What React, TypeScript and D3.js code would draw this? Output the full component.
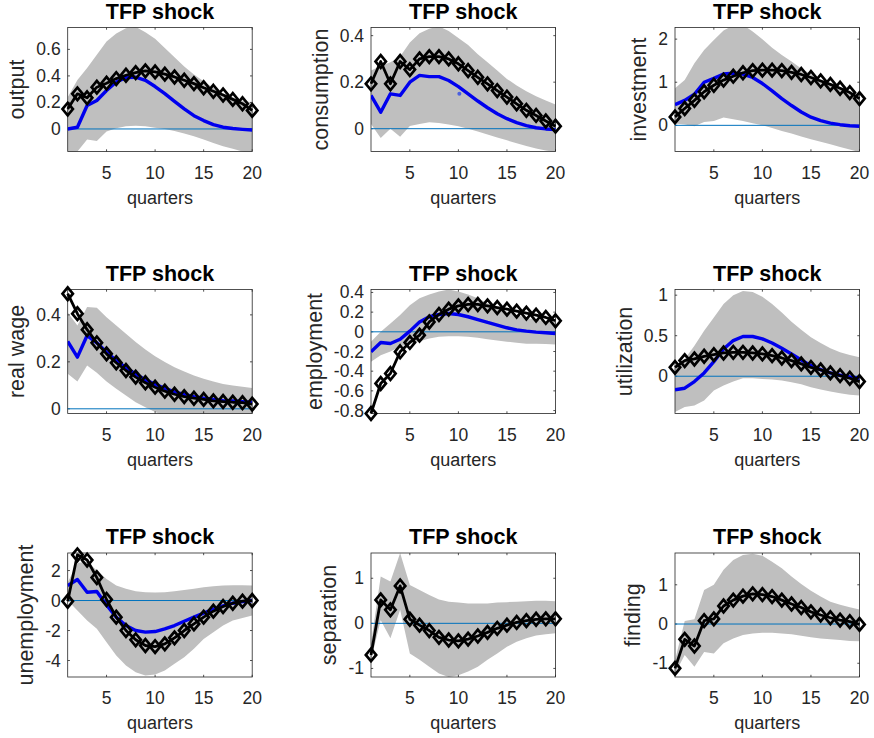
import React, { useEffect, useRef } from "react";
import * as d3 from "d3";

const quarters = [1, 2, 3, 4, 5, 6, 7, 8, 9, 10, 11, 12, 13, 14, 15, 16, 17, 18, 19, 20];
const xTicks = [5, 10, 15, 20];
const panelTitle = "TFP shock";
const xLabel = "quarters";

// ---- output ----
const outputUpper = [0.24, 0.37, 0.46, 0.56, 0.66, 0.72, 0.76, 0.77, 0.73, 0.68, 0.61, 0.54, 0.47, 0.41, 0.36, 0.31, 0.27, 0.24, 0.215, 0.2];
const outputLower = [-0.2, -0.17, -0.08, -0.09, -0.02, 0.005, 0.02, 0.025, 0.02, 0.01, 0.0, -0.015, -0.035, -0.055, -0.08, -0.105, -0.13, -0.15, -0.17, -0.19];
const outputMedian = [0.0, 0.013, 0.177, 0.215, 0.29, 0.354, 0.387, 0.39, 0.367, 0.32, 0.266, 0.208, 0.152, 0.1, 0.063, 0.033, 0.013, 0.003, -0.003, -0.008];
const outputModel = [0.15, 0.265, 0.235, 0.315, 0.345, 0.38, 0.405, 0.425, 0.438, 0.43, 0.413, 0.392, 0.367, 0.342, 0.311, 0.284, 0.256, 0.223, 0.19, 0.14];
const outputYlim = [-0.17, 0.765];
const outputTicks = [0, 0.2, 0.4, 0.6];

// ---- consumption ----
const consumptionUpper = [0.25, 0.27, 0.286, 0.31, 0.37, 0.41, 0.43, 0.44, 0.42, 0.39, 0.36, 0.32, 0.286, 0.25, 0.214, 0.186, 0.161, 0.139, 0.121, 0.104];
const consumptionLower = [0.02, -0.04, 0.0, -0.035, 0.012, 0.02, 0.028, 0.025, 0.018, 0.01, 0.0, -0.012, -0.025, -0.038, -0.05, -0.062, -0.074, -0.085, -0.094, -0.1];
const consumptionMedian = [0.143, 0.071, 0.15, 0.143, 0.2, 0.229, 0.224, 0.224, 0.207, 0.181, 0.15, 0.119, 0.09, 0.064, 0.043, 0.026, 0.013, 0.004, -0.001, -0.004];
const consumptionModel = [0.193, 0.289, 0.193, 0.289, 0.254, 0.3, 0.31, 0.31, 0.3, 0.279, 0.25, 0.221, 0.193, 0.164, 0.136, 0.107, 0.079, 0.057, 0.033, 0.011];
const consumptionDotQ = [10.1];
const consumptionDotV = [0.15];
const consumptionYlim = [-0.098, 0.435];
const consumptionTicks = [0, 0.2, 0.4];

// ---- investment ----
const investmentUpper = [0.86, 1.05, 1.44, 1.75, 1.98, 2.2, 2.32, 2.33, 2.18, 2.0, 1.8, 1.63, 1.48, 1.32, 1.19, 1.07, 0.97, 0.88, 0.8, 0.72];
const investmentLower = [0.04, 0.02, -0.02, 0.08, 0.1, 0.18, 0.14, 0.1, 0.05, 0.0, -0.06, -0.13, -0.19, -0.26, -0.32, -0.38, -0.44, -0.5, -0.56, -0.62];
const investmentMedian = [0.48, 0.58, 0.72, 1.0, 1.09, 1.19, 1.21, 1.19, 1.11, 0.97, 0.8, 0.62, 0.46, 0.31, 0.19, 0.11, 0.05, 0.015, -0.01, -0.02];
const investmentModel = [0.195, 0.39, 0.58, 0.78, 0.93, 1.05, 1.14, 1.22, 1.27, 1.28, 1.28, 1.27, 1.23, 1.18, 1.11, 1.03, 0.95, 0.86, 0.76, 0.62];
const investmentYlim = [-0.607, 2.27];
const investmentTicks = [0, 1, 2];

// ---- real wage ----
const realWageUpper = [0.41, 0.355, 0.433, 0.43, 0.39, 0.355, 0.32, 0.284, 0.252, 0.224, 0.199, 0.177, 0.159, 0.142, 0.128, 0.116, 0.106, 0.099, 0.094, 0.089];
const realWageLower = [0.149, 0.116, 0.184, 0.153, 0.116, 0.085, 0.057, 0.028, 0.007, -0.014, -0.03, -0.035, -0.04, -0.04, -0.04, -0.04, -0.04, -0.04, -0.04, -0.04];
const realWageMedian = [0.287, 0.22, 0.312, 0.281, 0.241, 0.206, 0.174, 0.148, 0.123, 0.104, 0.087, 0.072, 0.061, 0.052, 0.045, 0.04, 0.035, 0.033, 0.03, 0.027];
const realWageModel = [0.49, 0.405, 0.337, 0.281, 0.234, 0.196, 0.163, 0.135, 0.111, 0.092, 0.075, 0.062, 0.052, 0.045, 0.04, 0.034, 0.031, 0.028, 0.026, 0.02];
const realWageYlim = [-0.02, 0.508];
const realWageTicks = [0, 0.2, 0.4];

// ---- employment ----
const employmentUpper = [-0.1, 0.0, 0.085, 0.17, 0.27, 0.34, 0.38, 0.41, 0.43, 0.41, 0.38, 0.34, 0.29, 0.244, 0.203, 0.17, 0.142, 0.122, 0.108, 0.1];
const employmentLower = [-0.305, -0.237, -0.2, -0.15, -0.12, -0.095, -0.068, -0.05, -0.044, -0.044, -0.05, -0.06, -0.075, -0.088, -0.1, -0.11, -0.12, -0.122, -0.125, -0.129];
const employmentMedian = [-0.203, -0.108, -0.119, -0.075, 0.007, 0.1, 0.153, 0.176, 0.186, 0.176, 0.153, 0.125, 0.095, 0.068, 0.041, 0.02, 0.007, -0.003, -0.01, -0.017];
const employmentModel = [-0.83, -0.525, -0.424, -0.203, -0.108, -0.034, 0.1, 0.176, 0.23, 0.264, 0.278, 0.278, 0.264, 0.247, 0.23, 0.21, 0.19, 0.17, 0.146, 0.112];
const employmentYlim = [-0.83, 0.43];
const employmentTicks = [-0.8, -0.6, -0.4, -0.2, 0, 0.2, 0.4];

// ---- utilization ----
const utilizationUpper = [0.09, 0.213, 0.377, 0.56, 0.725, 0.89, 1.0, 1.05, 1.04, 0.98, 0.89, 0.787, 0.672, 0.574, 0.48, 0.41, 0.344, 0.295, 0.262, 0.234];
const utilizationLower = [-0.443, -0.38, -0.36, -0.3, -0.176, -0.115, -0.066, -0.025, -0.025, -0.033, -0.041, -0.053, -0.074, -0.1, -0.135, -0.164, -0.189, -0.21, -0.23, -0.238];
const utilizationMedian = [-0.168, -0.148, -0.066, 0.041, 0.18, 0.336, 0.44, 0.49, 0.49, 0.46, 0.41, 0.344, 0.275, 0.2, 0.13, 0.082, 0.041, 0.012, -0.008, -0.025];
const utilizationModel = [0.11, 0.193, 0.213, 0.246, 0.266, 0.287, 0.295, 0.295, 0.287, 0.275, 0.254, 0.225, 0.193, 0.152, 0.11, 0.078, 0.041, 0.008, -0.025, -0.066];
const utilizationYlim = [-0.46, 1.07];
const utilizationTicks = [0, 0.5, 1];

// ---- unemployment ----
const unemploymentUpper = [1.2, 2.5, 2.6, 2.0, 1.44, 1.0, 0.78, 0.62, 0.56, 0.53, 0.56, 0.62, 0.71, 0.78, 0.89, 0.96, 1.0, 1.02, 1.02, 1.0];
const unemploymentLower = [0.0, -0.67, -1.33, -1.89, -2.78, -3.67, -4.33, -4.78, -5.0, -4.93, -4.67, -4.22, -3.78, -3.22, -2.56, -2.11, -1.67, -1.33, -1.16, -1.0];
const unemploymentMedian = [1.0, 1.4, 0.55, 0.6, -0.3, -1.11, -1.67, -2.0, -2.11, -2.07, -1.89, -1.67, -1.38, -1.11, -0.84, -0.58, -0.36, -0.18, -0.07, 0.0];
const unemploymentModel = [-0.05, 3.05, 2.7, 1.53, 0.07, -1.11, -2.0, -2.62, -3.0, -3.07, -2.89, -2.49, -2.0, -1.56, -1.11, -0.71, -0.4, -0.18, -0.04, 0.0];
const unemploymentYlim = [-5.1, 3.17];
const unemploymentTicks = [-4, -2, 0, 2];

// ---- separation ----
const separationUpper = [-0.45, 1.04, 0.93, 1.56, 0.85, 0.74, 0.63, 0.53, 0.48, 0.46, 0.44, 0.44, 0.44, 0.46, 0.47, 0.48, 0.49, 0.5, 0.5, 0.49];
const separationLower = [-0.81, 0.07, -0.33, 0.3, -0.67, -0.81, -0.96, -1.11, -1.19, -1.15, -1.07, -0.96, -0.81, -0.67, -0.52, -0.41, -0.33, -0.27, -0.24, -0.22];
const separationModel = [-0.7, 0.52, 0.3, 0.83, 0.09, -0.04, -0.16, -0.31, -0.37, -0.39, -0.35, -0.28, -0.2, -0.11, -0.04, 0.02, 0.06, 0.09, 0.1, 0.1];
const separationYlim = [-1.19, 1.56];
const separationTicks = [-1, 0, 1];

// ---- finding ----
const findingUpper = [-0.92, 0.08, 0.12, 0.87, 1.0, 1.38, 1.63, 1.76, 1.79, 1.74, 1.59, 1.42, 1.21, 1.02, 0.85, 0.7, 0.57, 0.49, 0.43, 0.37];
const findingLower = [-1.26, -0.79, -1.09, -0.71, -0.75, -0.49, -0.37, -0.28, -0.24, -0.22, -0.22, -0.24, -0.26, -0.3, -0.34, -0.37, -0.39, -0.41, -0.43, -0.44];
const findingModel = [-1.13, -0.39, -0.56, 0.085, 0.13, 0.46, 0.61, 0.71, 0.77, 0.75, 0.7, 0.61, 0.51, 0.42, 0.31, 0.23, 0.16, 0.1, 0.06, -0.01];
const findingYlim = [-1.35, 1.81];
const findingTicks = [-1, 0, 1];

type Panel = {
  label: string;
  ylim: number[];
  ticks: number[];
  upper: number[];
  lower: number[];
  median: number[] | null;
  model: number[];
  dotQ?: number[];
  dotV?: number[];
};

const panels: Panel[] = [
  { label: "output", ylim: outputYlim, ticks: outputTicks, upper: outputUpper, lower: outputLower, median: outputMedian, model: outputModel },
  { label: "consumption", ylim: consumptionYlim, ticks: consumptionTicks, upper: consumptionUpper, lower: consumptionLower, median: consumptionMedian, model: consumptionModel, dotQ: consumptionDotQ, dotV: consumptionDotV },
  { label: "investment", ylim: investmentYlim, ticks: investmentTicks, upper: investmentUpper, lower: investmentLower, median: investmentMedian, model: investmentModel },
  { label: "real wage", ylim: realWageYlim, ticks: realWageTicks, upper: realWageUpper, lower: realWageLower, median: realWageMedian, model: realWageModel },
  { label: "employment", ylim: employmentYlim, ticks: employmentTicks, upper: employmentUpper, lower: employmentLower, median: employmentMedian, model: employmentModel },
  { label: "utilization", ylim: utilizationYlim, ticks: utilizationTicks, upper: utilizationUpper, lower: utilizationLower, median: utilizationMedian, model: utilizationModel },
  { label: "unemployment", ylim: unemploymentYlim, ticks: unemploymentTicks, upper: unemploymentUpper, lower: unemploymentLower, median: unemploymentMedian, model: unemploymentModel },
  { label: "separation", ylim: separationYlim, ticks: separationTicks, upper: separationUpper, lower: separationLower, median: null, model: separationModel },
  { label: "finding", ylim: findingYlim, ticks: findingTicks, upper: findingUpper, lower: findingLower, median: null, model: findingModel },
];

const W = 874;
const H = 738;
const colLefts = [67.7, 371, 675];
const rowTops = [27.5, 289.5, 553];
const boxW = 184.5;
const boxH = 124;
const FONT = "'Liberation Sans', Arial, Helvetica, sans-serif";
const AX = "#262626";

const fmt = (v: number) => (v === 0 ? "0" : String(+v.toFixed(2)));

export default function App() {
  const ref = useRef<SVGSVGElement>(null);

  useEffect(() => {
    const svg = d3.select(ref.current);
    svg.selectAll("*").remove();
    const defs = svg.append("defs");

    panels.forEach((p, i) => {
      const col = i % 3;
      const row = Math.floor(i / 3);
      const left = colLefts[col];
      const top = rowTops[row];
      const x = d3.scaleLinear().domain([1, 20]).range([left, left + boxW]);
      const y = d3.scaleLinear().domain(p.ylim).range([top + boxH, top]);
      const clipId = `clip-${i}`;
      defs.append("clipPath").attr("id", clipId)
        .append("rect").attr("x", left).attr("y", top).attr("width", boxW).attr("height", boxH);

      const g = svg.append("g");
      const band = quarters.map((q, k) => ({ q, lo: p.lower[k], hi: p.upper[k] }));
      g.append("path")
        .datum(band)
        .attr("d", d3.area<any>().x((d) => x(d.q)).y0((d) => y(d.lo)).y1((d) => y(d.hi)))
        .attr("fill", "#bfbfbf")
        .attr("clip-path", `url(#${clipId})`);

      // box
      g.append("rect")
        .attr("x", left).attr("y", top).attr("width", boxW).attr("height", boxH)
        .attr("fill", "none").attr("stroke", AX).attr("stroke-width", 0.8);

      // tick marks
      const tl = 2.2;
      xTicks.forEach((t) => {
        g.append("line").attr("x1", x(t)).attr("x2", x(t)).attr("y1", top + boxH).attr("y2", top + boxH - tl).attr("stroke", AX).attr("stroke-width", 0.8);
        g.append("line").attr("x1", x(t)).attr("x2", x(t)).attr("y1", top).attr("y2", top + tl).attr("stroke", AX).attr("stroke-width", 0.8);
      });
      p.ticks.forEach((t) => {
        g.append("line").attr("x1", left).attr("x2", left + tl).attr("y1", y(t)).attr("y2", y(t)).attr("stroke", AX).attr("stroke-width", 0.8);
        g.append("line").attr("x1", left + boxW).attr("x2", left + boxW - tl).attr("y1", y(t)).attr("y2", y(t)).attr("stroke", AX).attr("stroke-width", 0.8);
      });

      // zero line
      g.append("line")
        .attr("x1", x(1)).attr("x2", x(20)).attr("y1", y(0)).attr("y2", y(0))
        .attr("stroke", "#0072bd").attr("stroke-width", 1);

      // median (blue)
      if (p.median) {
        g.append("path")
          .datum(quarters.map((q, k) => [q, (p.median as number[])[k]]))
          .attr("d", d3.line<any>().x((d) => x(d[0])).y((d) => y(d[1])))
          .attr("fill", "none").attr("stroke", "#0000ee").attr("stroke-width", 3.4)
          .attr("stroke-linejoin", "round")
          .attr("clip-path", `url(#${clipId})`);
      }
      if (p.dotQ && p.dotV) {
        p.dotQ.forEach((q, k) => {
          g.append("circle").attr("cx", x(q)).attr("cy", y((p.dotV as number[])[k])).attr("r", 2).attr("fill", "#4a5fe0");
        });
      }

      // model (black with diamonds)
      g.append("path")
        .datum(quarters.map((q, k) => [q, p.model[k]]))
        .attr("d", d3.line<any>().x((d) => x(d[0])).y((d) => y(d[1])))
        .attr("fill", "none").attr("stroke", "#000").attr("stroke-width", 2.8)
        .attr("stroke-linejoin", "round");
      const hw = 5.2;
      const hh = 6.3;
      g.selectAll(null)
        .data(quarters.map((q, k) => [q, p.model[k]]))
        .enter()
        .append("path")
        .attr("d", (d: any) => {
          const cx = x(d[0]);
          const cy = y(d[1]);
          return `M${cx},${cy - hh}L${cx + hw},${cy}L${cx},${cy + hh}L${cx - hw},${cy}Z`;
        })
        .attr("fill", "none").attr("stroke", "#000").attr("stroke-width", 2.7)
        .attr("stroke-linejoin", "miter");

      // x tick labels
      xTicks.forEach((t) => {
        g.append("text").attr("x", x(t)).attr("y", top + boxH + 27)
          .attr("text-anchor", "middle").attr("font-family", FONT).attr("font-size", 17.5).attr("fill", AX)
          .text(String(t));
      });
      // y tick labels
      let maxW = 0;
      p.ticks.forEach((t) => {
        const tx = g.append("text").attr("x", left - 7).attr("y", y(t) + 6)
          .attr("text-anchor", "end").attr("font-family", FONT).attr("font-size", 17.5).attr("fill", AX)
          .text(fmt(t));
        const node = tx.node() as SVGTextElement;
        const w = node.getComputedTextLength();
        if (w > maxW) maxW = w;
      });

      // title
      g.append("text").attr("x", left + boxW / 2).attr("y", top - 8.8)
        .attr("text-anchor", "middle").attr("font-family", FONT).attr("font-size", 21.5)
        .attr("font-weight", "bold").attr("fill", "#000").text(panelTitle);
      // x label
      g.append("text").attr("x", left + boxW / 2).attr("y", top + boxH + 52)
        .attr("text-anchor", "middle").attr("font-family", FONT).attr("font-size", 18).attr("fill", AX)
        .text(xLabel);
      // y label
      const yl = left - 7 - maxW - 12;
      const yc = top + boxH / 2;
      g.append("text").attr("transform", `translate(${yl},${yc}) rotate(-90)`)
        .attr("text-anchor", "middle").attr("font-family", FONT).attr("font-size", 21.5).attr("fill", AX)
        .text(p.label);
    });
  }, []);

  return (
    <svg
      ref={ref}
      width={W}
      height={H}
      style={{ position: "absolute", left: 0, top: 0, background: "#fff", display: "block" }}
    />
  );
}
